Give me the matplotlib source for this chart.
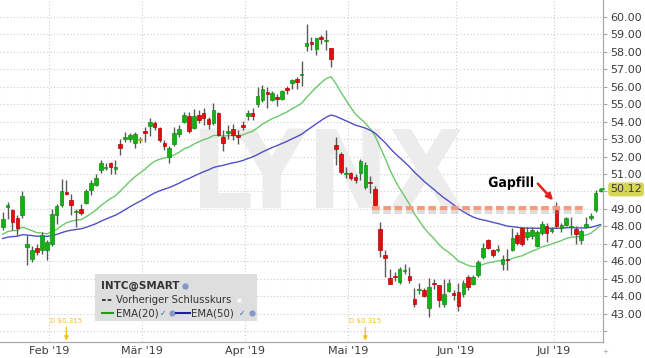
import numpy as np
import pandas as pd
import matplotlib
matplotlib.use("Agg")
import matplotlib.pyplot as plt
from matplotlib.patches import Rectangle
from matplotlib.lines import Line2D
from matplotlib import patheffects as pe

# ---------------- data ----------------
start_date, end_date = "2019-01-17", "2019-07-15"
holidays = ["2019-01-21", "2019-02-18", "2019-04-19", "2019-05-27", "2019-07-04"]

opens = [47.95, 49.10, 48.93, 48.50, 48.63, 46.82, 46.15, 46.77, 46.63, 46.67,
         46.98, 48.64, 49.20, 49.98, 49.50, 48.80, 48.98, 49.35, 50.11, 50.40,
         51.22, 51.35, 51.64, 51.30, 52.75, 53.02, 53.00, 52.80, 52.95, 53.46,
         53.75, 53.90, 53.65, 52.77, 51.99, 52.75, 53.29, 54.00, 54.34, 53.65,
         54.38, 54.48, 54.13, 53.90, 54.48, 53.14, 53.37, 53.56, 53.23, 53.80,
         54.33, 54.52, 55.00, 55.23, 55.70, 55.27, 55.42, 55.30, 55.93, 56.22,
         56.45, 56.65, 58.34, 58.57, 58.15, 58.85, 58.60, 58.20, 52.66, 52.14,
         50.98, 51.04, 50.85, 51.04, 50.25, 50.57, 50.15, 47.86, 46.37, 45.06,
         45.15, 44.81, 45.44, 45.13, 43.85, 44.33, 44.33, 43.34, 44.75, 44.66,
         43.53, 44.29, 44.18, 44.24, 44.10, 45.10, 44.68, 45.19, 46.25, 47.20,
         46.63, 46.63, 45.87, 46.15, 46.67, 47.50, 47.88, 47.40, 47.45, 46.90,
         47.60, 48.05, 47.75, 49.00, 47.90, 48.10, 47.95, 47.85, 47.20, 47.95,
         48.50, 48.95, 50.05]
highs = [48.80, 49.40, 49.00, 48.65, 50.00, 47.50, 46.86, 47.00, 47.70, 47.20,
         49.00, 49.30, 50.70, 50.65, 49.85, 49.00, 49.30, 50.17, 50.65, 51.03,
         51.80, 51.64, 51.70, 51.80, 52.98, 53.42, 53.37, 53.42, 53.10, 53.70,
         54.19, 54.03, 53.70, 52.95, 52.60, 53.70, 53.80, 54.57, 54.57, 54.70,
         54.67, 54.76, 54.29, 55.05, 54.57, 53.52, 53.80, 53.86, 53.52, 54.03,
         54.66, 54.80, 55.99, 56.09, 55.99, 55.76, 55.57, 55.80, 56.03, 56.47,
         56.56, 57.45, 59.58, 58.85, 58.81, 58.97, 59.24, 58.24, 53.10, 52.28,
         51.40, 51.13, 51.00, 51.85, 51.68, 50.86, 50.34, 48.28, 46.62, 45.57,
         45.38, 45.70, 45.86, 45.70, 44.47, 44.75, 44.47, 45.06, 45.00, 44.66,
         45.00, 45.00, 44.37, 44.75, 44.90, 45.19, 45.19, 46.09, 47.02, 47.30,
         46.73, 46.92, 46.34, 46.73, 47.88, 47.69, 47.97, 47.97, 47.97, 47.80,
         48.30, 48.20, 47.95, 49.40, 48.20, 48.55, 48.55, 48.05, 47.85, 48.55,
         48.75, 50.10, 50.20]
lows = [47.80, 48.45, 47.80, 47.50, 48.50, 45.80, 45.96, 46.35, 46.40, 46.06,
        46.86, 48.16, 49.10, 49.80, 48.64, 47.97, 48.64, 49.30, 49.80, 50.30,
        51.07, 51.22, 51.03, 51.03, 52.08, 52.85, 52.85, 52.50, 52.80, 52.85,
        53.18, 53.52, 52.85, 52.40, 51.65, 52.60, 53.14, 53.90, 53.37, 53.60,
        53.90, 53.80, 53.60, 53.80, 53.18, 52.33, 52.98, 52.95, 52.75, 53.52,
        54.09, 54.12, 54.85, 55.13, 54.80, 55.19, 54.89, 55.23, 55.60, 55.90,
        55.90, 56.05, 58.05, 58.09, 57.82, 58.47, 58.09, 57.15, 51.51, 51.00,
        50.80, 50.66, 50.50, 50.66, 50.15, 49.92, 49.10, 46.24, 45.10, 44.68,
        44.87, 44.68, 45.29, 44.75, 43.38, 44.10, 43.95, 42.80, 44.43, 43.38,
        43.38, 44.24, 43.76, 43.15, 43.95, 44.33, 44.62, 45.10, 46.15, 46.73,
        46.25, 46.54, 45.48, 45.48, 46.60, 46.92, 46.86, 47.20, 47.30, 46.80,
        47.50, 47.10, 47.60, 47.90, 47.70, 48.00, 47.50, 47.00, 47.00, 47.88,
        48.35, 48.80, 49.95]
closes = [48.45, 49.20, 48.26, 47.90, 49.75, 47.00, 46.67, 46.54, 47.50, 47.10,
          48.70, 49.18, 50.00, 49.88, 49.20, 48.85, 48.74, 50.04, 50.46, 50.80,
          51.64, 51.40, 51.41, 51.40, 52.50, 53.10, 53.23, 53.30, 52.95, 53.33,
          54.00, 53.67, 52.95, 52.60, 52.50, 53.33, 53.58, 54.38, 53.46, 54.32,
          54.10, 54.19, 53.85, 54.67, 53.23, 52.79, 53.48, 53.23, 53.10, 53.71,
          54.50, 54.33, 55.46, 55.90, 55.57, 55.65, 55.32, 55.76, 55.80, 56.41,
          56.28, 56.72, 58.53, 58.47, 58.78, 58.76, 58.67, 57.57, 52.41, 51.13,
          51.05, 50.75, 50.65, 51.76, 51.49, 50.48, 49.20, 46.62, 46.20, 44.71,
          45.10, 45.57, 45.48, 44.90, 43.53, 44.43, 43.99, 44.52, 44.68, 43.76,
          44.14, 44.75, 44.05, 43.44, 44.75, 44.52, 45.10, 45.95, 46.77, 46.79,
          46.34, 46.69, 46.15, 46.06, 47.36, 47.05, 46.98, 47.69, 47.80, 47.70,
          48.15, 47.60, 47.85, 48.05, 48.10, 48.50, 48.05, 47.55, 47.75, 48.15,
          48.60, 49.90, 50.12]

ema20_prev, ema50_prev = 47.45, 47.26          # EMA levels just before the first bar
month_labels = ["Jan '19", "Feb '19", "Mär '19", "Apr '19", "Mai '19", "Jun '19", "Jul '19"]
yticks = list(range(42, 61))
div_dates = ["2019-02-06", "2019-05-06"]
div_amounts = [0.315, 0.315]
gap_level = 49.05
gap_from, gap_to = "2019-05-09", "2019-07-10"
last_price = 50.12
watermark = "LYNX"
legend_title = "INTC@SMART"
legend_prev = "Vorheriger Schlusskurs"
legend_ema = ["EMA(20)", "EMA(50)"]
annot_text = "Gapfill"

# ---------------- derived ----------------
dates = pd.bdate_range(start_date, end_date)
dates = dates[~dates.isin(pd.to_datetime(holidays))]
n = len(dates)
idx = np.arange(n)
o, h, l, c = map(np.asarray, (opens, highs, lows, closes))


def ema(vals, prev, span):
    a = 2.0 / (span + 1)
    out = []
    for v in vals:
        prev = a * v + (1 - a) * prev
        out.append(prev)
    return np.array(out)


e20 = ema(c, ema20_prev, 20)
e50 = ema(c, ema50_prev, 50)

W, H = 645, 358
fig = plt.figure(figsize=(W / 100, H / 100), dpi=100)
fig.patch.set_facecolor("white")
ax = fig.add_axes([0, (H - 342) / H, 603 / W, 342 / H])
ax.set_xlim(-0.55, n - 0.5)
ax.set_ylim(41.375, 60.974)

grid_kw = dict(color="#cdcdcd", lw=0.8, ls=(0, (1, 2)), zorder=0)
for y in yticks:
    ax.axhline(y, **grid_kw)

months = dates.month
bounds = [i for i in range(1, n) if months[i] != months[i - 1]]
for b in bounds:
    ax.axvline(b - 0.5, **grid_kw)

# watermark
ax.text(66.3, 49.05, watermark, ha="center", va="baseline", fontsize=78,
        family="DejaVu Sans", weight="bold", stretch="condensed",
        color="#ececec", zorder=0.5)

# EMA lines
ax.plot(idx, e20, color="#6cc86c", lw=1.0, zorder=2)
ax.plot(idx, e50, color="#5050c4", lw=1.0, zorder=2)

# candles
up = c > o
down = c < o
cols = np.where(up, "#16b016", np.where(down, "#dd1010", "#e8c000"))
edges = np.where(up, "#0c900c", np.where(down, "#b80000", "#c8a000"))
ax.vlines(idx, l, h, color="#5a5a5a", lw=1.0, zorder=3)
bottoms = np.minimum(o, c)
heights = np.maximum(np.abs(c - o), 0.07)
ax.bar(idx, heights, bottom=bottoms, width=0.74, color=cols, edgecolor=edges,
       linewidth=0.5, zorder=4)

# gap-fill line
g0 = dates.get_loc(pd.Timestamp(gap_from)) - 1.6
g1 = dates.get_loc(pd.Timestamp(gap_to)) - 0.6
ax.plot([g0, g1], [gap_level, gap_level], color="#f59a7c", lw=2.9,
        ls=(0, (1.9, 0.9)), solid_capstyle="butt", zorder=5,
        path_effects=[pe.SimpleLineShadow(offset=(0, -2.5), shadow_color="#909090", alpha=0.3),
                      pe.Normal()])

# Gapfill annotation
ax.text(103.7, 50.49, annot_text, ha="center", va="center", fontsize=10,
        weight="bold", stretch="condensed", color="black", zorder=7,
        path_effects=[pe.withStroke(linewidth=2.5, foreground="white")])
arr = ax.annotate("", xy=(112.3, 49.5), xytext=(109.2, 50.45),
                  arrowprops=dict(arrowstyle="-|>", color="#e3221c", lw=1.8,
                                  mutation_scale=9, shrinkA=0, shrinkB=0), zorder=7)
arr.arrow_patch.set_path_effects([pe.SimplePatchShadow(offset=(1.2, -1.2), alpha=0.35), pe.Normal()])

# dividends
for d, amt in zip(div_dates, div_amounts):
    i = dates.get_loc(pd.Timestamp(d))
    ax.text(i, 42.55, f"D ${amt:.3f}", ha="center", va="center", fontsize=5,
            color="#f0c020", zorder=6)
    ax.annotate("", xy=(i, 41.45), xytext=(i, 42.2),
                arrowprops=dict(arrowstyle="-|>", color="#f2c31c", lw=1.0,
                                mutation_scale=6, shrinkA=0, shrinkB=0), zorder=6)

# axes styling
for s in ("top", "left"):
    ax.spines[s].set_visible(False)
for s in ("right", "bottom"):
    ax.spines[s].set_color("#a8a8a8")
    ax.spines[s].set_linewidth(0.9)
ax.yaxis.tick_right()
ax.set_yticks(yticks)
ax.set_yticklabels(["" if (v == 42 or v == 50) else f"{v:.2f}" for v in yticks])
ax.tick_params(axis="y", length=3, width=0.8, color="#a8a8a8", labelsize=8,
               labelcolor="#3c3c3c", pad=2)
ax.set_xticks([b - 0.5 for b in bounds])
ax.set_xticklabels([month_labels[months[b] - 1] for b in bounds])
ax.tick_params(axis="x", length=0, labelsize=8, labelcolor="#3c3c3c", pad=3)

# last price badge
ax.text(1.012, last_price, f"{last_price:.2f}", transform=ax.get_yaxis_transform(),
        ha="left", va="center", fontsize=8, color="#3c3c3c", zorder=8,
        bbox=dict(boxstyle="round,pad=0.18,rounding_size=0.3", fc="#d6d655", ec="none"),
        clip_on=False)
ax.plot([n - 1, n - 0.2], [last_price, last_price], color="#16b016", lw=1.2,
        zorder=6, clip_on=False)

# legend (drawn manually)
def fx(x):
    return x / W


def fy(y):
    return 1 - y / H


fig.add_artist(Rectangle((fx(95), fy(321)), fx(257) - fx(95), fy(274) - fy(321),
                         transform=fig.transFigure, facecolor="#dedede",
                         edgecolor="none", zorder=5))
fig.text(fx(101), fy(286), legend_title, fontsize=7.5, weight="bold", color="#333333",
         va="center", zorder=6)
fig.add_artist(Line2D([fx(185)], [fy(286)], marker="o", ms=3.6, color="#8499c9",
                      transform=fig.transFigure, zorder=6))
fig.add_artist(Line2D([fx(101.5), fx(112.5)], [fy(300), fy(300)], color="#222222",
                      lw=1.2, ls=(0, (2.2, 1.2)), transform=fig.transFigure, zorder=6))
fig.text(fx(116), fy(300), legend_prev, fontsize=7.3, color="#333333", va="center", zorder=6)
fig.add_artist(Line2D([fx(239)], [fy(300)], marker="s", ms=3.2, mfc="white", mec="#e8e8e8",
                      transform=fig.transFigure, zorder=6))
fig.add_artist(Line2D([fx(101.5), fx(112.5)], [fy(313), fy(313)], color="#18a018",
                      lw=1.5, transform=fig.transFigure, zorder=6))
fig.text(fx(116), fy(313), legend_ema[0], fontsize=7.3, color="#333333", va="center", zorder=6)
fig.text(fx(163), fy(313), "\u2713", fontsize=5.5, color="#3a66c8", va="center", ha="center", zorder=6)
fig.add_artist(Line2D([fx(172)], [fy(313)], marker="o", ms=3.4, color="#8499c9",
                      transform=fig.transFigure, zorder=6))
fig.add_artist(Line2D([fx(175.5), fx(190)], [fy(313), fy(313)], color="#1c1ca8",
                      lw=1.5, transform=fig.transFigure, zorder=6))
fig.text(fx(191.5), fy(313), legend_ema[1], fontsize=7.3, color="#333333", va="center", zorder=6)
fig.text(fx(242), fy(313), "\u2713", fontsize=5.5, color="#3a66c8", va="center", ha="center", zorder=6)
fig.add_artist(Line2D([fx(251.5)], [fy(313)], marker="o", ms=3.4, color="#8499c9",
                      transform=fig.transFigure, zorder=6))

fig.text(fx(605.5), fy(352), "+", fontsize=5, color="#9a9a9a", ha="center", va="center")

fig.savefig("out.png", dpi=100)
